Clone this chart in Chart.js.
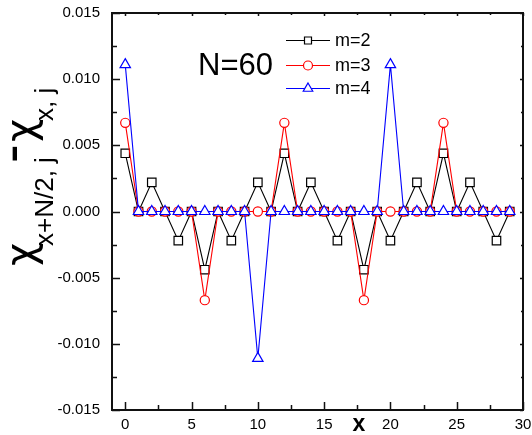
<!DOCTYPE html>
<html>
<head>
<meta charset="utf-8">
<script src="https://cdn.jsdelivr.net/npm/chart.js@4/dist/chart.umd.min.js"></script>
<style>
  html, body { margin: 0; padding: 0; background: #fff; }
  #wrap { width: 532px; height: 435px; }
</style>
</head>
<body>
<div id="wrap"><canvas id="c" width="532" height="435"></canvas></div>
<script>
// ---- data ----
const xs = [0,1,2,3,4,5,6,7,8,9,10,11,12,13,14,15,16,17,18,19,20,21,22,23,24,25,26,27,28,29];
const m2 = [0.0044,0,0.0022,0,-0.0022,0,-0.0044,0,-0.0022,0,0.0022,0,0.0044,0,0.0022,0,-0.0022,0,-0.0044,0,-0.0022,0,0.0022,0,0.0044,0,0.0022,0,-0.0022,0];
const m3 = [0.0067,0,0,0,0,0,-0.0067,0,0,0,0,0,0.0067,0,0,0,0,0,-0.0067,0,0,0,0,0,0.0067,0,0,0,0,0];
const m4 = [0.0111,0,0,0,0,0,0,0,0,0,-0.0111,0,0,0,0,0,0,0,0,0,0.0111,0,0,0,0,0,0,0,0,0];
const seriesNames = ['m=2', 'm=3', 'm=4'];
const xTicks = [0,5,10,15,20,25,30];
const xMinorTicks = [2.5,7.5,12.5,17.5,22.5,27.5];
const yTicks = [-0.015,-0.010,-0.005,0.000,0.005,0.010,0.015];
const yMinorTicks = [-0.0125,-0.0075,-0.0025,0.0025,0.0075,0.0125];
const titleText = 'N=60';
const xTitle = 'x';

const FONT = '"Liberation Sans", Arial, sans-serif';
const CHI_FONT = '"DejaVu Sans", sans-serif';
const colors = ['#000000', '#ff0000', '#0000ff'];
const styles = ['rect', 'circle', 'triangle'];
const radii = [6, 4.6, 6];

function pts(arr) { return xs.map((x, i) => ({ x: x, y: arr[i] })); }

const datasets = [m2, m3, m4].map((arr, i) => ({
  label: seriesNames[i],
  data: pts(arr),
  borderColor: colors[i],
  borderWidth: 1.1,
  pointStyle: styles[i],
  pointRadius: radii[i],
  pointBorderColor: colors[i],
  pointBackgroundColor: '#ffffff',
  pointBorderWidth: 1.2,
  tension: 0,
  order: 3 - i
}));

function legendMarker(ctx, style, x, y, color) {
  ctx.save();
  ctx.strokeStyle = color;
  ctx.fillStyle = '#fff';
  ctx.lineWidth = 1.2;
  ctx.beginPath();
  if (style === 'rect') {
    ctx.rect(x - 3.5, y - 3.5, 7, 7);
  } else if (style === 'circle') {
    ctx.arc(x, y, 4.5, 0, Math.PI * 2);
  } else {
    const r = 5.5;
    ctx.moveTo(x, y - r);
    ctx.lineTo(x + r * 0.866, y + r * 0.5);
    ctx.lineTo(x - r * 0.866, y + r * 0.5);
    ctx.closePath();
  }
  ctx.fill();
  ctx.stroke();
  ctx.restore();
}

const zeroPad = s => { s.paddingTop = 0; s.paddingBottom = 0; s.paddingLeft = 0; s.paddingRight = 0; };

const decor = {
  id: 'decor',
  afterDatasetsDraw(chart) {
    const ctx = chart.ctx;
    const a = chart.chartArea;
    const sx = chart.scales.x, sy = chart.scales.y;
    ctx.save();
    // frame
    ctx.strokeStyle = '#111';
    ctx.lineWidth = 2;
    ctx.strokeRect(a.left, a.top, a.right - a.left, a.bottom - a.top);
    // ticks
    ctx.lineWidth = 1.5;
    ctx.beginPath();
    const tick = (vals, len, lenOpp) => {
      vals.forEach(v => {
        const px = Math.round(sx.getPixelForValue(v)) + 0.5;
        ctx.moveTo(px, a.bottom); ctx.lineTo(px, a.bottom - len);
        ctx.moveTo(px, a.top); ctx.lineTo(px, a.top + lenOpp);
      });
    };
    const tickY = (vals, len, lenOpp) => {
      vals.forEach(v => {
        const py = Math.round(sy.getPixelForValue(v)) + 0.5;
        ctx.moveTo(a.left, py); ctx.lineTo(a.left + len, py);
        ctx.moveTo(a.right, py); ctx.lineTo(a.right - lenOpp, py);
      });
    };
    tick(xTicks, 8, 3);
    tick(xMinorTicks, 5, 2);
    tickY(yTicks, 8, 3);
    tickY(yMinorTicks, 5, 2);
    ctx.stroke();

    // title
    ctx.fillStyle = '#000';
    ctx.font = '31px ' + FONT;
    ctx.textBaseline = 'alphabetic';
    ctx.textAlign = 'left';
    ctx.fillText(titleText, 198, 75);

    // legend
    const rows = [40, 65, 88];
    rows.forEach((y, i) => {
      ctx.strokeStyle = colors[i];
      ctx.lineWidth = 1.2;
      ctx.beginPath();
      ctx.moveTo(286, y + 0.5); ctx.lineTo(330, y + 0.5);
      ctx.stroke();
      legendMarker(ctx, styles[i], 308, y + 0.5, colors[i]);
      ctx.fillStyle = '#000';
      ctx.font = '18px ' + FONT;
      ctx.textBaseline = 'middle';
      ctx.fillText(seriesNames[i], 335, y + 1);
    });

    // x title
    ctx.font = 'bold 23px ' + FONT;
    ctx.textAlign = 'center';
    ctx.textBaseline = 'alphabetic';
    ctx.fillText(xTitle, 359, 431);

    // y title (rotated): local u = -screenY, v = screenX
    ctx.save();
    ctx.rotate(-Math.PI / 2);
    ctx.textAlign = 'left';
    ctx.textBaseline = 'alphabetic';
    ctx.font = '40px ' + CHI_FONT;
    ctx.fillText('\u03C7', -266, 34);
    ctx.font = '26px ' + FONT;
    ctx.fillText('x+N/2, j', -246, 53);
    ctx.font = '56px ' + FONT;
    ctx.fillText('-', -163, 30);
    ctx.font = '40px ' + CHI_FONT;
    ctx.fillText('\u03C7', -142, 34);
    ctx.font = '26px ' + FONT;
    ctx.fillText('x, j', -121, 53);
    ctx.restore();

    ctx.restore();
  }
};

new Chart(document.getElementById('c'), {
  type: 'line',
  data: { datasets: datasets },
  options: {
    responsive: false,
    animation: false,
    devicePixelRatio: 1,
    layout: { autoPadding: false, padding: { top: 13, right: 9, left: 0, bottom: 0 } },
    plugins: { legend: { display: false }, tooltip: { enabled: false } },
    scales: {
      x: {
        type: 'linear',
        min: -1, max: 30,
        afterBuildTicks: s => { s.ticks = xTicks.map(v => ({ value: v })); },
        afterFit: s => { s.height = 25; zeroPad(s); },
        grid: { display: false, drawTicks: false },
        border: { display: false },
        ticks: {
          autoSkip: false, maxRotation: 0, padding: 6, color: '#000',
          font: { family: FONT, size: 15 },
          callback: v => String(v)
        }
      },
      y: {
        type: 'linear',
        min: -0.015, max: 0.015,
        afterBuildTicks: s => { s.ticks = yTicks.map(v => ({ value: v })); },
        afterFit: s => { s.width = 112; zeroPad(s); },
        grid: { display: false, drawTicks: false },
        border: { display: false },
        ticks: {
          autoSkip: false, padding: 12, color: '#000',
          font: { family: FONT, size: 15 },
          callback: v => Number(v).toFixed(3)
        }
      }
    }
  },
  plugins: [decor]
});
</script>
</body>
</html>
